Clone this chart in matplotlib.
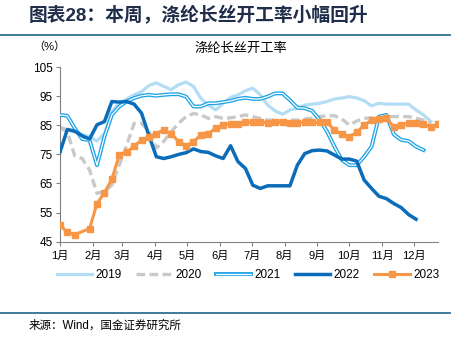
#!/usr/bin/env python3
"""Weekly polyester filament operating rate, 2019-2023 (recreated chart)."""

import datetime as dt

import numpy as np
import matplotlib
matplotlib.use("Agg")
import matplotlib.pyplot as plt
import matplotlib.patheffects as pe
from matplotlib.lines import Line2D

plt.rcParams["font.family"] = ["Liberation Sans", "Noto Sans CJK SC", "DejaVu Sans"]
plt.rcParams["axes.unicode_minus"] = False

nan = np.nan

# weekly readings (%), week 0 = first week of January
rate_2019 = [84.5, 83.4, 82.8, 81.9, 81.1, 79.6, 82.2, 89.7, 92.6, 94.1, 95.5, 96.6, 98.7,
             99.6, 98.4, 97.3, 99.0, 99.9, 98.4, 94.3, 92.0, 90.3, 92.6, 94.6, 95.5, 96.9,
             97.8, 95.5, 92.0, 90.0, 88.8, 90.3, 90.9, 92.0, 92.3, 92.6, 93.2, 94.1, 94.4,
             94.9, 94.4, 93.5, 91.7, 92.6, 92.3, 92.3, 92.3, 92.3, 90.3, 88.6, 86.3, nan]
rate_2020 = [84.3, 82.8, 74.5, 73.6, 69.6, 61.6, 62.2, 64.5, 71.3, 78.2, 85.7, 85.7, 83.0,
             77.2, 79.5, 82.8, 85.7, 88.0, 89.1, 88.6, 87.4, 88.0, 87.4, 87.6, 88.0, 88.6,
             88.0, 87.4, 86.8, 86.8, 86.5, 86.8, 86.8, 87.2, 87.4, 88.0, 88.3, 88.3, 87.2,
             85.1, 86.5, 87.4, 87.6, 88.0, 88.0, 88.0, 88.0, 88.0, 87.4, 86.8, 85.7, nan]
rate_2021 = [88.6, 88.3, 84.0, 80.3, 79.9, 71.3, 81.1, 88.6, 91.5, 93.2, 94.4, 95.2, 95.5,
             95.2, 95.5, 95.7, 95.7, 94.9, 91.5, 91.5, 92.6, 92.6, 93.0, 93.4, 94.1, 94.5,
             94.1, 94.1, 94.9, 96.0, 96.0, 93.7, 91.1, 90.9, 90.0, 86.9, 82.9, 77.7, 73.1,
             71.3, 71.3, 74.2, 77.7, 88.0, 88.6, 81.9, 80.0, 79.6, 77.7, 76.5, nan, nan]
rate_2022 = [75.7, 83.6, 83.0, 81.4, 80.3, 85.2, 86.3, 93.2, 93.0, 93.2, 92.3, 89.2, 81.5,
             74.2, 73.6, 74.2, 75.0, 75.6, 76.9, 76.0, 75.7, 74.5, 73.6, 78.0, 72.5, 70.2,
             64.4, 63.3, 64.2, 64.2, 64.2, 64.2, 71.3, 75.3, 76.3, 76.5, 76.2, 74.8, 73.4,
             73.4, 72.7, 66.2, 63.3, 60.6, 59.8, 58.1, 56.7, 54.3, 52.7, nan, nan, nan]
rate_2023 = [50.6, 48.3, 47.4, nan, 49.5, 58.1, 61.8, 66.5, 74.8, 75.7, 77.9, 79.9, 81.1,
             82.2, 83.4, 82.2, 79.4, 78.0, 79.4, 81.7, 82.2, 84.0, 85.1, 85.6, 85.6, 86.1,
             86.0, 86.1, 85.9, 86.0, 86.0, 85.9, 85.9, 86.0, 86.0, 86.0, 86.1, 83.4, 81.9,
             81.1, 82.6, 85.1, 86.8, 87.2, 87.4, 84.5, 85.1, 85.9, 85.7, 85.3, 84.5, 85.3]

years = ["2019", "2020", "2021", "2022", "2023"]
month_labels = [f"{m}月" for m in range(1, 13)]
yticks = [45, 55, 65, 75, 85, 95, 105]


def week_days(values):
    """Day-of-year positions of the non-missing weekly points."""
    vals = np.asarray(values, dtype=float)
    days = np.arange(len(vals)) * 7
    keep = ~np.isnan(vals)
    return days[keep], vals[keep]


def main():
    fig = plt.figure(figsize=(4.68, 3.37), dpi=100)
    ax = fig.add_axes([0.128, 0.283, 0.8086, 0.5175])

    x, y = week_days(rate_2019)
    ax.plot(x, y, color="#B3DDF5", lw=2.3, label=years[0], zorder=2)

    x, y = week_days(rate_2020)
    ax.plot(x, y, color="#C9C9C9", lw=2.4, dashes=(2.6, 1.3), label=years[1], zorder=2)

    # 2021 is a hollow line: blue outline with a white core
    x, y = week_days(rate_2021)
    ax.plot(x, y, color="#1EA4E6", lw=2.8, zorder=3)
    ax.plot(x, y, color="white", lw=0.9, zorder=3)

    x, y = week_days(rate_2022)
    ax.plot(x, y, color="#0B6CBA", lw=2.5, label=years[3], zorder=4)

    x, y = week_days(rate_2023)
    ax.plot(x, y, color="#F79646", lw=2.2, marker="s", ms=4.3, mec="#F79646",
            label=years[4], zorder=5)

    # legend proxy for the hollow 2021 line
    h2021 = Line2D([], [], color="white", lw=0.9,
                   path_effects=[pe.Stroke(linewidth=2.8, foreground="#1EA4E6"), pe.Normal()])
    handles, labels = ax.get_legend_handles_labels()
    handles.insert(2, h2021)
    labels.insert(2, years[2])

    month_starts = [(dt.date(2023, m, 1) - dt.date(2023, 1, 1)).days for m in range(1, 13)]
    ax.set_xticks(month_starts)
    ax.set_xticklabels(month_labels, fontsize=8)
    ax.set_xlim(0, 357)
    ax.set_ylim(45, 105)
    ax.set_yticks(yticks)
    ax.set_yticklabels([str(v) for v in yticks], fontsize=8.5)

    for side in ("top", "right"):
        ax.spines[side].set_visible(False)
    for side in ("left", "bottom"):
        ax.spines[side].set_color("#808080")
        ax.spines[side].set_linewidth(0.8)
    ax.tick_params(axis="both", direction="out", length=3, width=0.8, color="#808080",
                   pad=2, labelcolor="#000000")
    ax.tick_params(axis="x", pad=4)

    fig.legend(handles, labels, loc="center", bbox_to_anchor=(0.53, 0.184), ncol=5,
               frameon=False, fontsize=8.5, handlelength=3.0, handletextpad=0.3,
               columnspacing=1.2)

    fig.text(0.062, 0.953, "图表28：本周，涤纶长丝开工率小幅回升", fontsize=13.5,
             fontweight="bold", color="#1F2D4B", va="center", ha="left")
    fig.add_artist(Line2D([0.0, 0.962], [0.896, 0.896], transform=fig.transFigure,
                          color="#2F6F93", lw=1.3))
    fig.text(0.072, 0.862, "（%）", fontsize=8, va="center", ha="left")
    fig.text(0.515, 0.855, "涤纶长丝开工率", fontsize=9.5, va="center", ha="center")

    fig.add_artist(Line2D([0.0, 0.962], [0.072, 0.072], transform=fig.transFigure,
                          color="#2F6F93", lw=1.3))
    fig.text(0.062, 0.033, "来源：Wind，国金证券研究所", fontsize=8.3, va="center", ha="left")

    fig.savefig("out.png", dpi=100)
    plt.close(fig)


if __name__ == "__main__":
    main()
